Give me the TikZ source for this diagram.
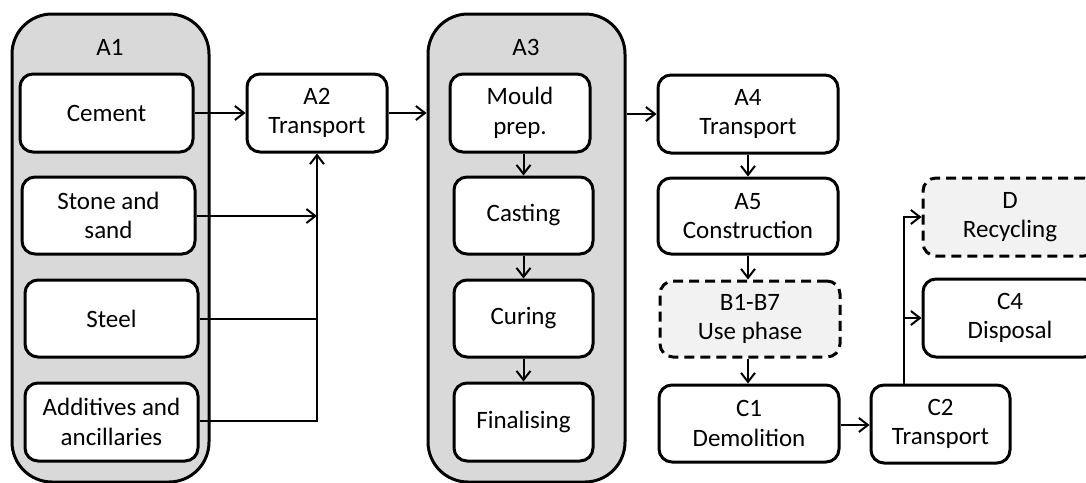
\documentclass[tikz,border=0pt]{standalone}
\usepackage{fontspec}
\setmainfont{Carlito}
\usetikzlibrary{arrows.meta}
\definecolor{outerfill}{HTML}{D9D9D9}
\definecolor{dashfill}{HTML}{F2F2F2}
\tikzset{
  outerbox/.style={draw, line width=3pt, fill=outerfill, rounded corners=40pt, inner sep=0pt},
  stepbox/.style={draw, line width=3pt, fill=white, rounded corners=13pt, inner sep=0pt, align=center},
  dashbox/.style={stepbox, fill=dashfill, dash pattern=on 10pt off 6pt},
  conn/.style={line width=2pt},
  arr/.style={conn, -{Straight Barb[length=9pt,width=14pt,line width=2pt]}},
  every node/.style={font=\fontsize{25}{29.5}\selectfont}
}
\begin{document}
\begin{tikzpicture}[x=1pt,y=-1pt]
\useasboundingbox (0,0) rectangle (1086,482);
\clip (0,0) rectangle (1086,482);
% outer groups
\node[outerbox, minimum width=197pt, minimum height=468pt] (A1box) at (110.5,248) {};
\node (A1lab) at (110,47) {A1};
\node[outerbox, minimum width=197pt, minimum height=468pt] (A3box) at (526.5,248) {};
\node (A3lab) at (526,47) {A3};
% A1 items
\node[stepbox, minimum width=173pt, minimum height=78pt] (cement) at (106.5,113) {Cement};
\node[stepbox, minimum width=173pt, minimum height=77pt] (stone) at (108.5,215.5) {Stone and\\sand};
\node[stepbox, minimum width=173pt, minimum height=77pt] (steel) at (111.5,318.5) {Steel};
\node[stepbox, minimum width=173pt, minimum height=78pt] (addit) at (111.5,422) {Additives and\\ancillaries};
% A2
\node[stepbox, minimum width=140pt, minimum height=78pt] (A2) at (317,113) {A2\\Transport};
% A3 items
\node[stepbox, minimum width=140pt, minimum height=78pt] (mould) at (520,113) {Mould\\prep.};
\node[stepbox, minimum width=139pt, minimum height=77pt] (casting) at (523.5,215.5) {Casting};
\node[stepbox, minimum width=139pt, minimum height=77pt] (curing) at (523.5,318.5) {Curing};
\node[stepbox, minimum width=139pt, minimum height=78pt] (final) at (523.5,422) {Finalising};
% A4 - C1
\node[stepbox, minimum width=180pt, minimum height=78pt] (A4) at (748,114) {A4\\Transport};
\node[stepbox, minimum width=180pt, minimum height=76pt] (A5) at (748,216) {A5\\Construction};
\node[dashbox, minimum width=180pt, minimum height=76pt] (B) at (750,319) {B1-B7\\Use phase};
\node[stepbox, minimum width=180pt, minimum height=77pt] (C1) at (749,423.5) {C1\\Demolition};
\node[stepbox, minimum width=139pt, minimum height=78pt] (C2) at (940.5,424) {C2\\Transport};
\node[dashbox, minimum width=174pt, minimum height=78pt] (D) at (1010,217) {D\\Recycling};
\node[stepbox, minimum width=174pt, minimum height=78pt] (C4) at (1010,318) {C4\\Disposal};
% connectors A1 -> A2
\coordinate (jstone) at (317,216);
\coordinate (jsteel) at (317,319);
\coordinate (jadd) at (317,421);
\draw[arr] (cement.east) -- (A2.west);
\draw[arr] (stone.east |- jstone) -- (jstone);
\draw[conn] (steel.east |- jsteel) -- (jsteel);
\draw[arr] (addit.east |- jadd) -- (jadd) -- (A2.south);
% A2 -> A3 -> A4
\draw[arr] (A2.east) -- (A2.east -| A3box.west);
\draw[arr] (A3box.east |- A4.west) -- (A4.west);
% inside A3
\draw[arr] (casting.north |- mould.south) -- (casting.north);
\draw[arr] (casting.south) -- (curing.north);
\draw[arr] (curing.south) -- (final.north);
% A4 chain
\draw[arr] (A4.south) -- (A5.south |- A5.north);
\draw[arr] (A5.south) -- (A5.south |- B.north);
\draw[arr] (A5.south |- B.south) -- (A5.south |- C1.north);
\draw[arr] (C1.east |- 0,425) -- (C2.west |- 0,425);
% C2 branches
\coordinate (cstart) at (904,385);
\coordinate (ctop) at (904,217);
\draw[arr] (C2.north -| cstart) -- (ctop) -- (D.west);
\draw[arr] (C2.north -| cstart) |- (C4.west);
\end{tikzpicture}
\end{document}
